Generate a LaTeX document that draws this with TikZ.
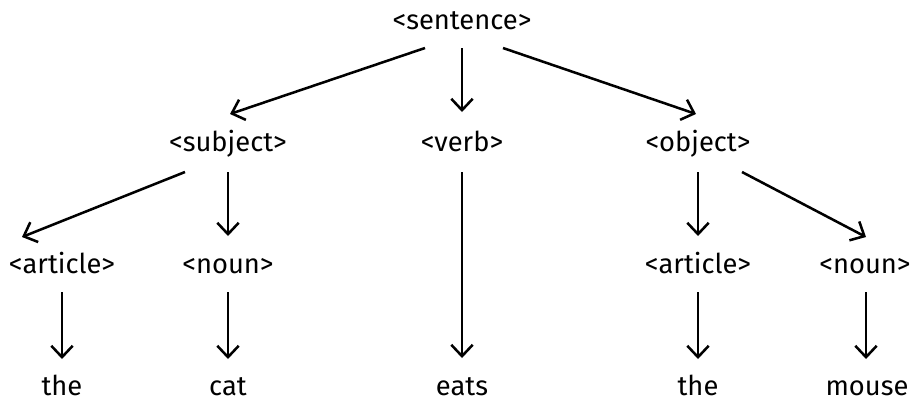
\documentclass[tikz,border=0pt]{standalone}
\usepackage{fontspec}
\setmainfont{Fira Sans}
\usetikzlibrary{arrows.meta}
\begin{document}
\begin{tikzpicture}[x=0.75pt,y=-0.75pt,
  word/.style={anchor=base,inner sep=0pt,font=\fontsize{20.5}{24}\selectfont},
  link/.style={line width=1.9pt,-{Straight Barb[length=8.5pt,width=16pt,line width=1.9pt]}}]
\useasboundingbox (0,0) rectangle (910,401);
% rule names
\node[word] (sentence) at (462,29) {<sentence>};
\node[word] (subject) at (228,151) {<subject>};
\node[word] (verb) at (462,151) {<verb>};
\node[word] (object) at (698,151) {<object>};
\node[word] (art1) at (62,273) {<article>};
\node[word] (noun1) at (228,273) {<noun>};
\node[word] (art2) at (698,273) {<article>};
\node[word] (noun2) at (865,273) {<noun>};
% terminal words
\node[word] (the1) at (62,395) {the};
\node[word] (cat) at (228,395) {cat};
\node[word] (eats) at (462,395) {eats};
\node[word] (the2) at (698,395) {the};
\node[word] (mouse) at (867,395) {mouse};
% derivation arrows
\draw[link] ([shift={(-37,19)}]sentence.base) -- ([shift={(2,-37)}]subject.base);
\draw[link] ([shift={(0,19)}]sentence.base) -- ([shift={(0,-39)}]verb.base);
\draw[link] ([shift={(41,19)}]sentence.base) -- ([shift={(-2,-37)}]object.base);
\draw[link] ([shift={(-43,21)}]subject.base) -- ([shift={(-40,-36)}]art1.base);
\draw[link] ([shift={(0,21)}]subject.base) -- ([shift={(0,-37)}]noun1.base);
\draw[link] ([shift={(0,21)}]verb.base) -- ([shift={(0,-37)}]eats.base);
\draw[link] ([shift={(0,21)}]object.base) -- ([shift={(0,-37)}]art2.base);
\draw[link] ([shift={(44,21)}]object.base) -- ([shift={(1,-36)}]noun2.base);
\draw[link] ([shift={(0,19)}]art1.base) -- ([shift={(0,-36)}]the1.base);
\draw[link] ([shift={(0,19)}]noun1.base) -- ([shift={(0,-36)}]cat.base);
\draw[link] ([shift={(0,19)}]art2.base) -- ([shift={(0,-36)}]the2.base);
\draw[link] ([shift={(1,19)}]noun2.base) -- ([shift={(-1,-36)}]mouse.base);
\end{tikzpicture}
\end{document}
